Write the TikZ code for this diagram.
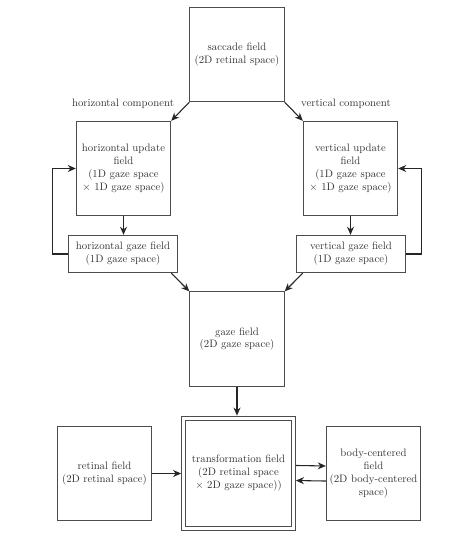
\documentclass[tikz,border=0pt]{standalone}
\usetikzlibrary{arrows.meta}
\begin{document}
\begin{tikzpicture}[x=0.93pt,y=-0.93pt,
  box/.style={draw=black!70,line width=0.7pt,align=center,text=black!80,inner sep=1pt},
  sq/.style={box,minimum width=88pt,minimum height=88pt},
  wide/.style={box,minimum width=102pt,minimum height=35pt},
  arr/.style={draw=black!85,line width=1pt,-{Stealth[length=7.5pt,width=6.5pt]}},
  lab/.style={text=black!80}]
\useasboundingbox (0,0) rectangle (474,538);
\node[sq] (sac) at (237,54.5) {saccade field\\(2D retinal space)};
\node[sq] (hu) at (123.5,168.5) {horizontal update\\field\\(1D gaze space\\$\times$ 1D gaze space)};
\node[sq] (vu) at (350.5,168.5) {vertical update\\field\\(1D gaze space\\$\times$ 1D gaze space)};
\node[wide] (hg) at (123,254) {horizontal gaze field\\(1D gaze space)};
\node[wide] (vg) at (351,254) {vertical gaze field\\(1D gaze space)};
\node[sq] (gz) at (237,339) {gaze field\\(2D gaze space)};
\node[box,minimum width=106pt,minimum height=106pt] (tfo) at (238.5,473) {};
\node[box,minimum width=98.5pt,minimum height=98.5pt] (tf) at (238.5,473) {transformation field\\(2D retinal space\\$\times$ 2D gaze space))};
\node[sq] (ret) at (104.5,473.5) {retinal field\\(2D retinal space)};
\node[sq] (body) at (373.5,473.5) {body-centered\\field\\(2D body-centered\\space)};
\node[lab] (hl) at (123,104) {horizontal component};
\node[lab] (vl) at (346,104) {vertical component};
\draw[arr] (sac.south west) -- (hu.north east);
\draw[arr] (sac.south east) -- (vu.north west);
\draw[arr] (hu.south) -- (hg.north -| hu.south);
\draw[arr] (vu.south) -- (vg.north -| vu.south);
\draw[arr] (hg.west) -- ++(-15,0) |- (hu.west);
\draw[arr] (vg.east) -- ++(15,0) |- (vu.east);
\draw[arr] ([xshift=-6.5pt]hg.south east) -- (gz.north west);
\draw[arr] ([xshift=6.5pt]vg.south west) -- (gz.north east);
\draw[arr] (gz.south) -- (tfo.north -| gz.south);
\draw[arr] (ret.east) -- (tfo.west |- ret.east);
\draw[arr] ([yshift=7pt]tfo.east) -- ([yshift=7pt]body.west);
\draw[arr] ([yshift=-7pt]body.west) -- ([yshift=-7pt]tfo.east);
\end{tikzpicture}
\end{document}
